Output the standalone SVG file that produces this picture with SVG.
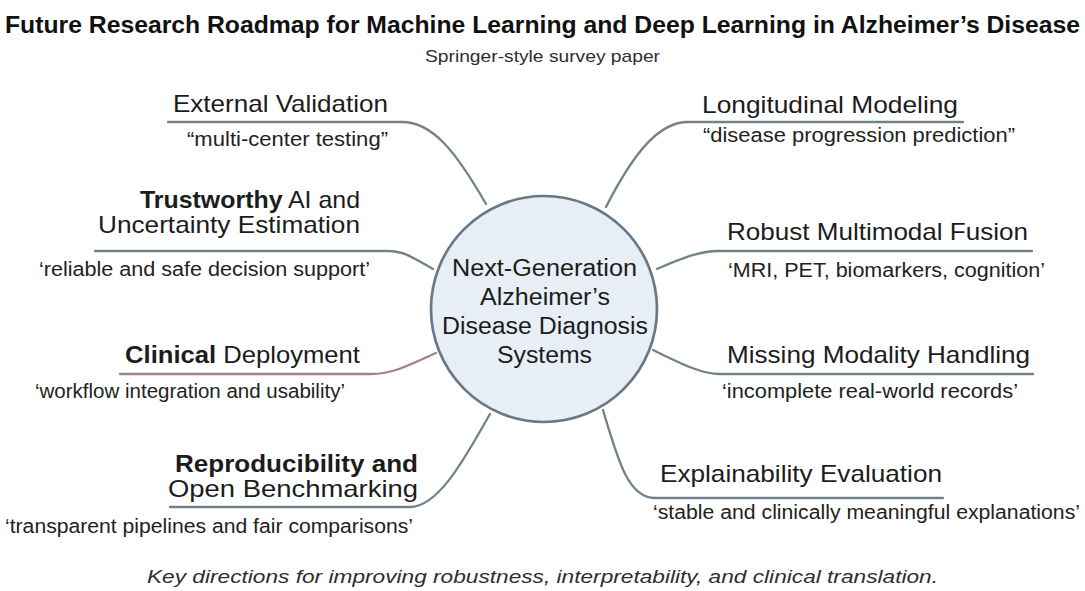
<svg xmlns="http://www.w3.org/2000/svg" width="1085" height="591" viewBox="0 0 1085 591">
  <style>
    text { font-family: "Liberation Sans", Arial, Helvetica, sans-serif; fill: #1c1c1c; }
    .title { font-size: 23px; font-weight: bold; fill: #111; }
    .sub { font-size: 17px; fill: #2e2e2e; }
    .head { font-size: 24px; }
    .note { font-size: 19.5px; fill: #222; }
    .hub { font-size: 23px; }
    .foot { font-size: 17.5px; font-style: italic; fill: #2e2e2e; }
    .b { font-weight: bold; }
    .end { text-anchor: end; }
    .mid { text-anchor: middle; }
    .link { fill: none; stroke: #72828c; stroke-width: 2.3; stroke-linecap: round; }
    .link-warm { stroke: #a08287; }
    .core { fill: #e8eef5; stroke: #687985; stroke-width: 2.7; }
  </style>

  <!-- heading -->
  <g id="heading">
    <text class="title" x="5" y="33" textLength="1075" lengthAdjust="spacingAndGlyphs">Future Research Roadmap for Machine Learning and Deep Learning in Alzheimer’s Disease</text>
    <text class="sub mid" x="542.5" y="62" textLength="235" lengthAdjust="spacingAndGlyphs">Springer-style survey paper</text>
  </g>

  <!-- branches: underline + curve into the hub -->
  <g id="connectors">
    <path class="link" d="M168,122 L402,122 C432,122 455,150 486,204"/>
    <path class="link" d="M963,122 L688,122 C660,122 635,150 606,207"/>
    <path class="link" d="M95,251 L388,251 C405,251 415,259 433,269"/>
    <path class="link" d="M1032,251 L718,251 C698,251 678,260 657,269"/>
    <path class="link link-warm" d="M120,374 L372,374 C395,374 415,362 436,353"/>
    <path class="link" d="M1033,374 L720,374 C700,374 678,362 653,350"/>
    <path class="link" d="M170,507 L410,507 C440,507 468,452 490,414"/>
    <path class="link" d="M943,498 L655,498 C628,498 618,460 603,410"/>
  </g>

  <!-- central hub -->
  <g id="hub">
    <circle class="core" cx="544" cy="309" r="113"/>
    <text class="hub mid" x="544.5" y="276" textLength="185" lengthAdjust="spacingAndGlyphs">Next-Generation</text>
    <text class="hub mid" x="545" y="305" textLength="130" lengthAdjust="spacingAndGlyphs">Alzheimer’s</text>
    <text class="hub mid" x="545" y="334" textLength="206" lengthAdjust="spacingAndGlyphs">Disease Diagnosis</text>
    <text class="hub mid" x="544.5" y="363" textLength="95" lengthAdjust="spacingAndGlyphs">Systems</text>
  </g>

  <!-- left column -->
  <g id="external-validation">
    <text class="head end" x="388" y="112" textLength="215" lengthAdjust="spacingAndGlyphs">External Validation</text>
    <text class="note end" x="388" y="146" textLength="201" lengthAdjust="spacingAndGlyphs">“multi-center testing”</text>
  </g>
  <g id="trustworthy-ai">
    <text class="head end" x="360" y="208" textLength="220" lengthAdjust="spacingAndGlyphs"><tspan class="b">Trustworthy</tspan> AI and</text>
    <text class="head end" x="360" y="233" textLength="262" lengthAdjust="spacingAndGlyphs">Uncertainty Estimation</text>
    <text class="note end" x="370" y="276" textLength="331" lengthAdjust="spacingAndGlyphs">‘reliable and safe decision support’</text>
  </g>
  <g id="clinical-deployment">
    <text class="head end" x="360" y="363" textLength="235" lengthAdjust="spacingAndGlyphs"><tspan class="b">Clinical</tspan> Deployment</text>
    <text class="note end" x="345" y="398" textLength="310" lengthAdjust="spacingAndGlyphs">‘workflow integration and usability’</text>
  </g>
  <g id="reproducibility">
    <text class="head end b" x="418" y="472" textLength="243" lengthAdjust="spacingAndGlyphs">Reproducibility and</text>
    <text class="head end" x="418" y="497" textLength="250" lengthAdjust="spacingAndGlyphs">Open Benchmarking</text>
    <text class="note end" x="413" y="533" textLength="408" lengthAdjust="spacingAndGlyphs">‘transparent pipelines and fair comparisons’</text>
  </g>

  <!-- right column -->
  <g id="longitudinal-modeling">
    <text class="head" x="702" y="113" textLength="256" lengthAdjust="spacingAndGlyphs">Longitudinal Modeling</text>
    <text class="note" x="703" y="142" textLength="312" lengthAdjust="spacingAndGlyphs">“disease progression prediction”</text>
  </g>
  <g id="multimodal-fusion">
    <text class="head" x="727" y="240" textLength="301" lengthAdjust="spacingAndGlyphs">Robust Multimodal Fusion</text>
    <text class="note" x="728" y="277" textLength="317" lengthAdjust="spacingAndGlyphs">‘MRI, PET, biomarkers, cognition’</text>
  </g>
  <g id="missing-modality">
    <text class="head" x="727" y="363" textLength="303" lengthAdjust="spacingAndGlyphs">Missing Modality Handling</text>
    <text class="note" x="722" y="398" textLength="296" lengthAdjust="spacingAndGlyphs">‘incomplete real-world records’</text>
  </g>
  <g id="explainability">
    <text class="head" x="660" y="482" textLength="282" lengthAdjust="spacingAndGlyphs">Explainability Evaluation</text>
    <text class="note" x="653" y="519" textLength="427" lengthAdjust="spacingAndGlyphs">‘stable and clinically meaningful explanations’</text>
  </g>

  <!-- caption -->
  <g id="caption">
    <text class="foot mid" x="542.5" y="583" textLength="791" lengthAdjust="spacingAndGlyphs">Key directions for improving robustness, interpretability, and clinical translation.</text>
  </g>
</svg>
